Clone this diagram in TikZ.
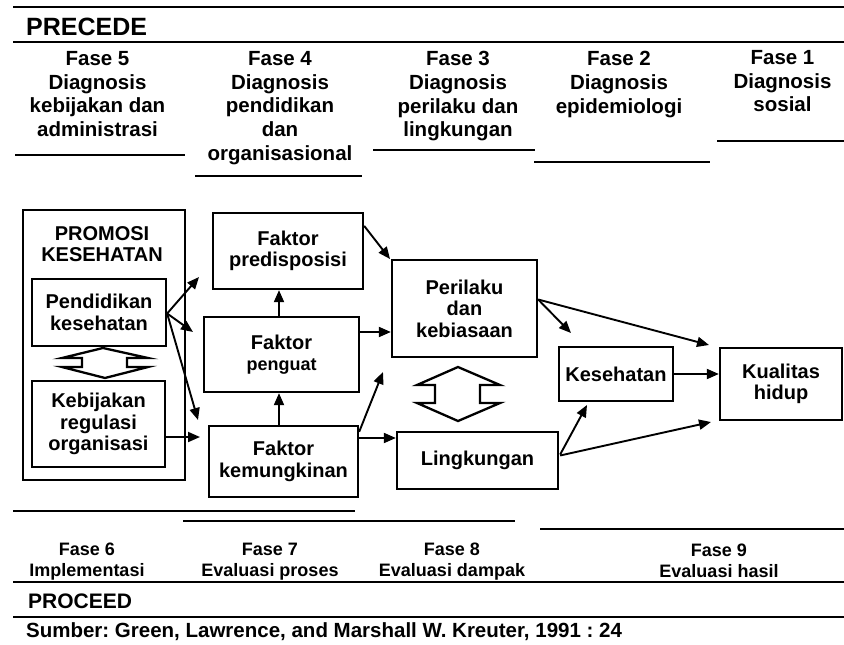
\documentclass[tikz,border=0pt]{standalone}
\usepackage{fontspec}
\setmainfont{Liberation Sans}
\usetikzlibrary{arrows.meta,calc}
\newcommand\fhead{\bfseries\fontsize{20.5}{23.6}\selectfont}
\newcommand\fnode{\bfseries\fontsize{20}{21.5}\selectfont}
\newcommand\fbot{\bfseries\fontsize{18}{21}\selectfont}
\frenchspacing
\begin{document}
\begin{tikzpicture}[x=1pt,y=-1pt,line width=2.3pt,
  box/.style={draw,inner sep=0pt,align=center,font=\fnode},
  lbl/.style={inner sep=0pt,align=center},
  hdr/.style={lbl,font=\fhead,anchor=north},
  btm/.style={lbl,font=\fbot,anchor=north},
  arr/.style={-{Triangle[length=12pt,width=10pt]},line width=1.9pt},
  rule/.style={line width=2.4pt},
  dbl/.style={line width=2.3pt,line join=miter}]
\useasboundingbox (0,0) rectangle (844,645);
% rules
\draw[rule] (13,7) -- (844,7);
\draw[rule] (13,42) -- (844,42);
\draw[rule] (15,155) -- (185,155);
\draw[rule] (195,176) -- (362,176);
\draw[rule] (373,150) -- (535,150);
\draw[rule] (534,162) -- (710,162);
\draw[rule] (717,141) -- (844,141);
\draw[rule] (13,511) -- (355,511);
\draw[rule] (183,521) -- (515,521);
\draw[rule] (540,529) -- (844,529);
\draw[rule] (13,582) -- (844,582);
\draw[rule] (13,617) -- (844,617);
% titles
\node[lbl,anchor=base west,font=\bfseries\fontsize{25}{28}\selectfont] (precede) at (25,35) {PRECEDE};
\node[lbl,anchor=base west,font=\bfseries\fontsize{21}{24}\selectfont] (proceed) at (27,608) {PROCEED};
\node[lbl,anchor=base west,font=\bfseries\fontsize{20.5}{24}\selectfont] (src) at (25,637) {Sumber: Green, Lawrence, and Marshall W. Kreuter, 1991 : 24};
% header phases
\node[hdr] (h5) at (97.5,50.5) {Fase 5\\Diagnosis\\kebijakan dan\\administrasi};
\node[hdr] (h4) at (280,50.5) {Fase 4\\Diagnosis\\pendidikan\\dan\\organisasional};
\node[hdr] (h3) at (458,50.5) {Fase 3\\Diagnosis\\perilaku dan\\lingkungan};
\node[hdr] (h2) at (619,50.5) {Fase 2\\Diagnosis\\epidemiologi};
\node[hdr] (h1) at (782.5,49.5) {Fase 1\\Diagnosis\\sosial};
% bottom phases
\node[btm] (f6) at (87,542) {Fase 6\\Implementasi};
\node[btm] (f7) at (270,542) {Fase 7\\Evaluasi proses};
\node[btm] (f8) at (452,542) {Fase 8\\Evaluasi dampak};
\node[btm] (f9) at (719,543) {Fase 9\\Evaluasi hasil};
% boxes
\node[draw,minimum width=162pt,minimum height=270pt,inner sep=0pt] (promo) at (104,345) {};
\node[lbl,font=\fnode] (promotxt) at (102,244) {PROMOSI\\KESEHATAN};
\node[box,minimum width=134pt,minimum height=67pt] (pend) at (99,312.5) {Pendidikan\\kesehatan};
\node[box,minimum width=133pt,minimum height=86pt] (kebij) at (98.5,424) {Kebijakan\\regulasi\\organisasi};
\node[box,minimum width=150pt,minimum height=76pt] (predis) at (288,251) {Faktor\\predisposisi};
\node[box,minimum width=155pt,minimum height=75pt] (penguat) at (281.5,354.5) {Faktor\\{\fontsize{18}{20}\selectfont penguat}};
\node[box,minimum width=149pt,minimum height=71pt] (kemung) at (283.5,461.5) {Faktor\\kemungkinan};
\node[box,minimum width=145pt,minimum height=97pt] (peril) at (464.5,308.5) {Perilaku\\dan\\kebiasaan};
\node[box,minimum width=161pt,minimum height=57pt] (lingk) at (477.5,460.5) {Lingkungan};
\node[box,minimum width=114pt,minimum height=54pt] (keseh) at (616,374) {Kesehatan};
\node[box,minimum width=122pt,minimum height=72pt] (kual) at (781,384) {Kualitas\\hidup};
% double arrows
\draw[dbl] (103,348) -- (62,358) -- (82,358) -- (82,367) -- (62,367) -- (105,378)
  -- (148,367) -- (127,367) -- (127,358) -- (148,358) -- cycle;
\draw[dbl] (458,367) -- (417,385) -- (435,385) -- (435,403) -- (417,403) -- (458,421)
  -- (500,403) -- (480,403) -- (480,385) -- (500,385) -- cycle;
% connector start points
\coordinate (sp) at ($(pend.east)+(0,1)$);
\coordinate (sk) at ($(kebij.east)+(0,13)$);
\coordinate (s5) at ($(penguat.north)+(-2.5,0)$);
\coordinate (s6) at ($(kemung.north)+(-4.5,0)$);
\coordinate (s7) at ($(predis.north east)+(0,14)$);
\coordinate (s8) at ($(penguat.east)+(0,-22.5)$);
\coordinate (s9) at ($(kemung.north east)+(0,7)$);
\coordinate (s10) at ($(kemung.east)+(0,-23.5)$);
\coordinate (s11) at ($(peril.east)+(0,-9)$);
\coordinate (s14) at ($(lingk.east)+(1,-6)$);
\coordinate (s15) at ($(lingk.east)+(1,-5)$);
% arrow tips
\coordinate (t1) at (199,277);
\coordinate (t2) at (193,332);
\coordinate (t3) at (198,420);
\coordinate (t4) at (200,437);
\coordinate (t7) at (390,259);
\coordinate (t9) at (383,372);
\coordinate (t11) at (571,333);
\coordinate (t12) at (709,345);
\coordinate (t14) at (587,405);
\coordinate (t15) at (711,422);
% connectors
\draw[arr] (sp) -- (t1);
\draw[arr] (sp) -- (t2);
\draw[arr] (sp) -- (t3);
\draw[arr] (sk) -- (t4);
\draw[arr] (s5) -- (s5 |- predis.south);
\draw[arr] (s6) -- (s6 |- penguat.south);
\draw[arr] (s7) -- (t7);
\draw[arr] (s8) -- (s8 -| peril.west);
\draw[arr] (s9) -- (t9);
\draw[arr] (s10) -- (s10 -| lingk.west);
\draw[arr] (s11) -- (t11);
\draw[arr] (s11) -- (t12);
\draw[arr] (keseh.east) -- (keseh.east -| kual.west);
\draw[arr] (s14) -- (t14);
\draw[arr] (s15) -- (t15);
\end{tikzpicture}
\end{document}
